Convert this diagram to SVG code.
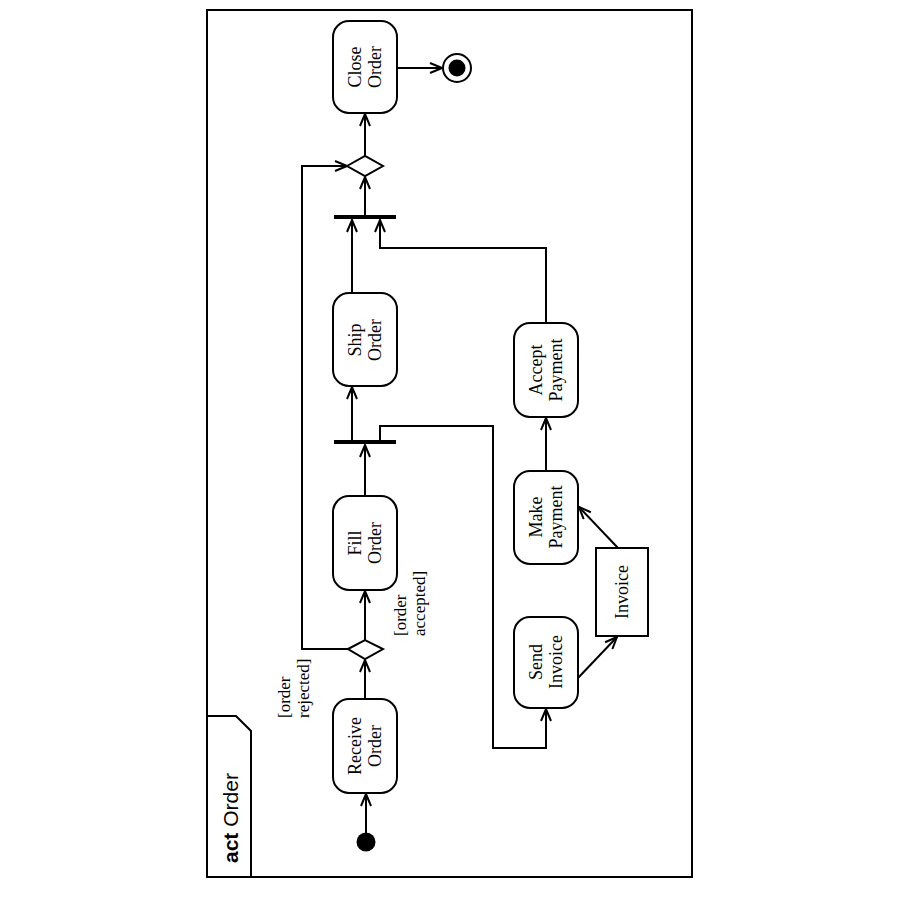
<svg xmlns="http://www.w3.org/2000/svg" width="900" height="900" viewBox="0 0 900 900">
  <style>
    .frame { fill: none; stroke: #000; stroke-width: 2; }
    .act { fill: #fff; stroke: #000; stroke-width: 2; }
    .obj { fill: #fff; stroke: #000; stroke-width: 2; }
    .bar { fill: #000; }
    .edge { fill: none; stroke: #000; stroke-width: 2; marker-end: url(#arr); }
    .lbl { font-family: "Liberation Serif", "Times New Roman", serif; font-size: 18px; fill: #000; text-anchor: middle; }
    .guard { font-family: "Liberation Serif", "Times New Roman", serif; font-size: 17px; fill: #000; text-anchor: start; }
    .title { font-family: "Liberation Sans", Arial, sans-serif; font-size: 21px; fill: #000; }
  </style>
  <defs>
    <marker id="arr" markerUnits="userSpaceOnUse" viewBox="0 0 14 12" markerWidth="14" markerHeight="12" refX="13" refY="6" orient="auto">
      <path d="M1,1 L13,6 L1,11" fill="none" stroke="#000" stroke-width="2"/>
    </marker>
  </defs>

  <rect width="900" height="900" fill="#fff"/>

  <!-- diagram frame with name tab -->
  <g id="frame">
    <rect class="frame" x="207" y="10" width="485" height="867"/>
    <path class="frame" d="M207,716 L236,716 L251,731 L251,877"/>
    <text class="title" transform="translate(238,863) rotate(-90)"><tspan font-weight="bold">act</tspan> Order</text>
  </g>

  <!-- connectors -->
  <g id="connectors">
    <path class="edge" d="M366,833 L366,794"/>
    <path class="edge" d="M365,699 L365,660"/>
    <path class="edge" d="M365,640 L365,591"/>
    <path class="edge" d="M348,649 L302,649 L302,166 L347,166"/>
    <path class="edge" d="M365,496 L365,445"/>
    <path class="edge" d="M352,440 L352,387"/>
    <path class="edge" d="M380,440 L380,426 L493,426 L493,748 L546,748 L546,709"/>
    <path class="edge" d="M352,293 L352,220"/>
    <path class="edge" d="M546,323 L546,248 L380,248 L380,220"/>
    <path class="edge" d="M365,215 L365,177"/>
    <path class="edge" d="M365,156 L365,114"/>
    <path class="edge" d="M397,68 L442,68"/>
    <path class="edge" d="M578,678 L617,637"/>
    <path class="edge" d="M618,548 L579,507"/>
    <path class="edge" d="M546,471 L546,418"/>
    <text class="guard" transform="translate(290,718) rotate(-90)">[order</text>
    <text class="guard" transform="translate(309,718) rotate(-90)">rejected]</text>
    <text class="guard" transform="translate(406,636) rotate(-90)">[order</text>
    <text class="guard" transform="translate(425,636) rotate(-90)">accepted]</text>
  </g>

  <!-- control nodes -->
  <g id="initial">
    <circle cx="366" cy="842" r="9.5" fill="#000"/>
  </g>
  <g id="final">
    <circle cx="457" cy="68" r="14" fill="#fff" stroke="#000" stroke-width="2"/>
    <circle cx="457" cy="68" r="8.5" fill="#000"/>
  </g>
  <g id="decision">
    <path class="act" d="M348,649 L365,640 L383,649 L365,659 Z"/>
  </g>
  <g id="merge">
    <path class="act" d="M347,166 L365,156 L383,166 L365,176 Z"/>
  </g>
  <g id="fork">
    <rect class="bar" x="334" y="440" width="62" height="4"/>
  </g>
  <g id="join">
    <rect class="bar" x="334" y="215" width="62" height="4"/>
  </g>

  <!-- actions -->
  <g id="receive-order">
    <rect class="act" x="333" y="699" width="64" height="94" rx="16"/>
    <text class="lbl" transform="translate(365,746) rotate(-90)"><tspan x="0" y="-4">Receive</tspan><tspan x="0" y="16">Order</tspan></text>
  </g>
  <g id="fill-order">
    <rect class="act" x="333" y="496" width="64" height="94" rx="16"/>
    <text class="lbl" transform="translate(365,543) rotate(-90)"><tspan x="0" y="-4">Fill</tspan><tspan x="0" y="16">Order</tspan></text>
  </g>
  <g id="ship-order">
    <rect class="act" x="333" y="293" width="64" height="93" rx="16"/>
    <text class="lbl" transform="translate(365,340) rotate(-90)"><tspan x="0" y="-4">Ship</tspan><tspan x="0" y="16">Order</tspan></text>
  </g>
  <g id="close-order">
    <rect class="act" x="333" y="21" width="64" height="92" rx="16"/>
    <text class="lbl" transform="translate(365,67) rotate(-90)"><tspan x="0" y="-4">Close</tspan><tspan x="0" y="16">Order</tspan></text>
  </g>
  <g id="send-invoice">
    <rect class="act" x="514" y="617" width="64" height="91" rx="16"/>
    <text class="lbl" transform="translate(546,662) rotate(-90)"><tspan x="0" y="-4">Send</tspan><tspan x="0" y="16">Invoice</tspan></text>
  </g>
  <g id="make-payment">
    <rect class="act" x="514" y="471" width="64" height="93" rx="16"/>
    <text class="lbl" transform="translate(546,517) rotate(-90)"><tspan x="0" y="-4">Make</tspan><tspan x="0" y="16">Payment</tspan></text>
  </g>
  <g id="accept-payment">
    <rect class="act" x="514" y="323" width="64" height="94" rx="16"/>
    <text class="lbl" transform="translate(546,370) rotate(-90)"><tspan x="0" y="-4">Accept</tspan><tspan x="0" y="16">Payment</tspan></text>
  </g>

  <!-- object node -->
  <g id="invoice">
    <rect class="obj" x="596" y="548" width="52" height="88"/>
    <text class="lbl" transform="translate(622,592) rotate(-90)" y="6">Invoice</text>
  </g>
</svg>
